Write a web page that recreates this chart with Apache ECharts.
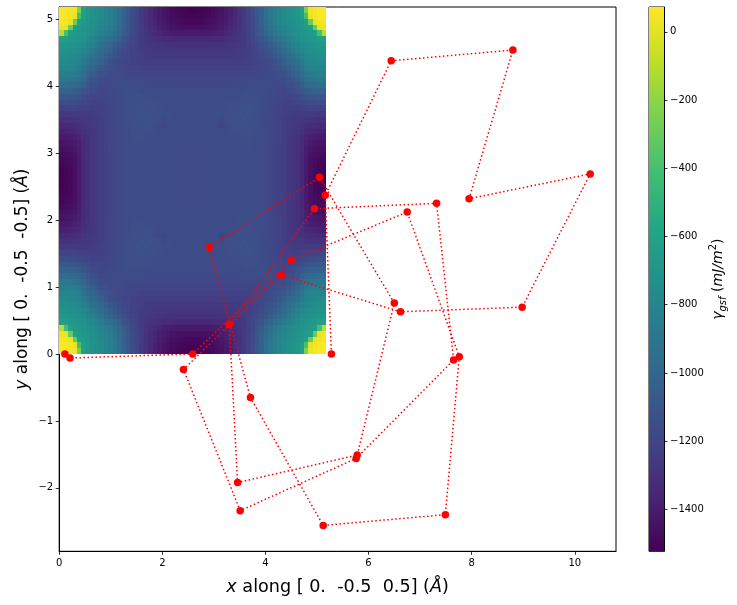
<!DOCTYPE html>
<html><head><meta charset="utf-8">
<script src="https://cdn.jsdelivr.net/npm/echarts@6/dist/echarts.min.js"></script>
<style>html,body{margin:0;padding:0;background:#fff}#c{width:737px;height:605px}</style>
</head><body><div id="c"></div>
<script>
// path of the red markers, in visiting order (Angstrom)
const pathX = [0.11,0.21,2.59,4.50,6.75,7.76,7.49,5.12,3.71,2.91,5.05,6.50,5.78,3.46,3.30,4.95,7.32,7.65,5.76,3.51,2.41,4.31,6.62,8.98,10.30,7.95,8.80,6.44,5.16,5.28];
const pathY = [0.00,-0.06,0.00,1.40,2.12,-0.04,-2.40,-2.56,-0.65,1.59,2.64,0.76,-1.51,-1.92,0.44,2.17,2.25,-0.09,-1.56,-2.34,-0.23,1.18,0.63,0.70,2.69,2.32,4.54,4.38,2.37,0.00];

// gamma_gsf read by colour for one corner quadrant (row 0 = corner edge, col 0 = corner edge); the map repeats in all four corners
const quadrant = [
[65,65,60,40,-250,-620,-680,-710,-740,-770,-800,-840,-890,-950,-1020,-1090,-1150,-1210,-1260,-1300,-1340,-1380,-1410,-1440,-1460,-1480,-1495,-1505,-1515,-1522],
[65,65,50,20,-400,-640,-680,-710,-740,-770,-800,-840,-890,-950,-1020,-1090,-1150,-1210,-1260,-1300,-1340,-1375,-1405,-1430,-1450,-1470,-1485,-1495,-1505,-1510],
[60,50,20,-300,-620,-670,-700,-730,-760,-780,-810,-850,-900,-960,-1030,-1095,-1155,-1210,-1255,-1295,-1330,-1365,-1395,-1420,-1440,-1455,-1470,-1480,-1490,-1495],
[40,20,-300,-620,-660,-690,-710,-740,-770,-790,-820,-860,-910,-970,-1035,-1100,-1160,-1210,-1250,-1290,-1320,-1350,-1380,-1400,-1420,-1435,-1450,-1460,-1460,-1460],
[-100,-400,-620,-660,-680,-700,-730,-760,-790,-820,-850,-890,-940,-995,-1060,-1120,-1170,-1215,-1250,-1280,-1310,-1335,-1360,-1380,-1390,-1400,-1405,-1410,-1410,-1410],
[-620,-640,-670,-690,-700,-710,-745,-790,-830,-870,-910,-950,-1000,-1045,-1095,-1140,-1185,-1220,-1250,-1270,-1290,-1305,-1320,-1330,-1335,-1340,-1345,-1350,-1350,-1350],
[-680,-680,-700,-710,-730,-745,-790,-830,-875,-920,-965,-1010,-1055,-1095,-1135,-1170,-1200,-1230,-1250,-1265,-1275,-1285,-1295,-1300,-1305,-1305,-1310,-1310,-1310,-1310],
[-710,-710,-730,-740,-760,-790,-830,-870,-920,-965,-1010,-1055,-1095,-1130,-1160,-1190,-1215,-1235,-1245,-1255,-1265,-1270,-1275,-1280,-1280,-1285,-1285,-1285,-1285,-1285],
[-740,-740,-760,-770,-790,-830,-875,-920,-960,-1000,-1050,-1090,-1125,-1150,-1175,-1195,-1215,-1230,-1240,-1250,-1255,-1258,-1260,-1260,-1260,-1262,-1262,-1262,-1262,-1262],
[-770,-770,-780,-790,-820,-870,-920,-965,-1000,-1040,-1090,-1130,-1160,-1180,-1195,-1205,-1215,-1225,-1230,-1235,-1235,-1235,-1235,-1235,-1235,-1235,-1235,-1235,-1235,-1235],
[-800,-800,-810,-820,-850,-910,-965,-1010,-1050,-1090,-1120,-1145,-1165,-1180,-1190,-1200,-1205,-1210,-1215,-1215,-1220,-1220,-1220,-1220,-1220,-1220,-1220,-1220,-1220,-1220],
[-840,-840,-850,-860,-890,-950,-1010,-1055,-1090,-1130,-1145,-1155,-1165,-1175,-1180,-1185,-1190,-1195,-1195,-1200,-1200,-1205,-1205,-1205,-1205,-1205,-1205,-1205,-1205,-1205],
[-890,-890,-900,-910,-940,-1000,-1055,-1095,-1125,-1160,-1165,-1165,-1165,-1165,-1170,-1170,-1175,-1175,-1180,-1180,-1185,-1185,-1185,-1190,-1190,-1190,-1190,-1190,-1190,-1190],
[-950,-950,-960,-970,-995,-1045,-1095,-1130,-1150,-1180,-1180,-1175,-1165,-1155,-1155,-1160,-1160,-1165,-1165,-1170,-1170,-1170,-1170,-1175,-1175,-1175,-1175,-1175,-1175,-1175],
[-1020,-1020,-1030,-1035,-1060,-1095,-1135,-1160,-1175,-1195,-1190,-1180,-1170,-1155,-1150,-1150,-1150,-1150,-1155,-1155,-1160,-1160,-1160,-1160,-1165,-1165,-1165,-1165,-1165,-1165],
[-1090,-1090,-1095,-1100,-1120,-1140,-1170,-1190,-1195,-1205,-1200,-1185,-1170,-1160,-1150,-1145,-1145,-1145,-1145,-1150,-1150,-1155,-1155,-1155,-1160,-1160,-1160,-1160,-1160,-1160],
[-1150,-1150,-1155,-1160,-1170,-1185,-1200,-1215,-1215,-1215,-1205,-1190,-1175,-1160,-1150,-1145,-1140,-1140,-1140,-1145,-1145,-1150,-1150,-1155,-1155,-1155,-1160,-1160,-1160,-1160],
[-1210,-1210,-1210,-1210,-1215,-1220,-1230,-1235,-1230,-1225,-1210,-1195,-1175,-1165,-1150,-1145,-1140,-1135,-1135,-1140,-1145,-1145,-1150,-1150,-1155,-1155,-1155,-1160,-1160,-1160],
[-1260,-1260,-1255,-1250,-1250,-1250,-1250,-1245,-1240,-1230,-1215,-1195,-1180,-1165,-1155,-1145,-1140,-1135,-1130,-1135,-1140,-1145,-1145,-1150,-1150,-1155,-1155,-1155,-1160,-1160],
[-1300,-1300,-1295,-1290,-1280,-1270,-1265,-1255,-1250,-1235,-1215,-1200,-1180,-1170,-1155,-1150,-1140,-1140,-1135,-1130,-1135,-1145,-1150,-1170,-1150,-1155,-1155,-1155,-1160,-1160],
[-1340,-1340,-1330,-1320,-1310,-1290,-1275,-1265,-1255,-1235,-1220,-1200,-1185,-1170,-1160,-1150,-1145,-1145,-1140,-1135,-1140,-1150,-1170,-1200,-1165,-1155,-1155,-1160,-1160,-1160],
[-1380,-1375,-1365,-1350,-1335,-1305,-1285,-1270,-1258,-1235,-1220,-1205,-1185,-1170,-1160,-1155,-1145,-1145,-1145,-1140,-1145,-1150,-1155,-1165,-1155,-1155,-1160,-1160,-1160,-1160],
[-1410,-1405,-1395,-1380,-1360,-1320,-1295,-1275,-1260,-1235,-1220,-1205,-1190,-1175,-1160,-1155,-1150,-1145,-1145,-1150,-1150,-1155,-1155,-1155,-1155,-1160,-1160,-1160,-1160,-1160],
[-1440,-1430,-1420,-1400,-1380,-1330,-1300,-1280,-1260,-1240,-1220,-1205,-1190,-1175,-1160,-1155,-1150,-1150,-1150,-1150,-1155,-1155,-1155,-1155,-1160,-1160,-1160,-1160,-1160,-1160],
[-1460,-1450,-1440,-1420,-1390,-1335,-1305,-1280,-1260,-1240,-1225,-1205,-1190,-1175,-1165,-1155,-1155,-1150,-1150,-1155,-1155,-1155,-1155,-1160,-1160,-1160,-1160,-1160,-1165,-1165],
[-1480,-1470,-1455,-1435,-1400,-1340,-1305,-1285,-1262,-1240,-1225,-1210,-1190,-1175,-1165,-1160,-1155,-1155,-1155,-1155,-1155,-1160,-1160,-1160,-1160,-1160,-1165,-1165,-1165,-1165],
[-1495,-1485,-1470,-1450,-1405,-1345,-1310,-1285,-1262,-1240,-1225,-1210,-1190,-1175,-1165,-1160,-1155,-1155,-1155,-1155,-1155,-1160,-1160,-1160,-1160,-1160,-1165,-1165,-1165,-1165],
[-1505,-1495,-1480,-1460,-1410,-1350,-1310,-1285,-1262,-1240,-1225,-1210,-1190,-1175,-1165,-1160,-1155,-1155,-1155,-1155,-1155,-1160,-1160,-1160,-1160,-1160,-1165,-1165,-1165,-1165],
[-1515,-1505,-1490,-1460,-1410,-1350,-1310,-1285,-1262,-1240,-1225,-1210,-1190,-1175,-1165,-1160,-1155,-1155,-1155,-1155,-1155,-1160,-1160,-1160,-1160,-1160,-1165,-1165,-1165,-1165],
[-1522,-1510,-1495,-1460,-1410,-1350,-1310,-1285,-1262,-1240,-1225,-1210,-1190,-1175,-1165,-1160,-1155,-1155,-1155,-1155,-1155,-1160,-1160,-1160,-1160,-1160,-1165,-1165,-1165,-1165]
];

const heatExtent = 5.18;
const xTicks = [0,2,4,6,8,10];
const yTicks = [-2,-1,0,1,2,3,4,5];
const barTicks = [0,-200,-400,-600,-800,-1000,-1200,-1400];
const barMin = -1523, barMax = 73;
const viridis = ['#440154','#482475','#414487','#355f8d','#2a788e','#21918c','#22a884','#44bf70','#7ad151','#bddf26','#fde725'];

const N = quadrant.length * 2;
const cell = heatExtent / N;
const heat = [];
for (let r = 0; r < N; r++) for (let c = 0; c < N; c++) {
  const v = quadrant[Math.min(r, N-1-r)][Math.min(c, N-1-c)];
  heat.push([c*cell, r*cell, (c+1)*cell, (r+1)*cell, v]);
}
const fmt = v => String(v).replace('-', '\u2212');
const FONT = 'DejaVu Sans';
const tick = {color:'#000', fontSize:10, fontFamily:FONT};
const line = {show:true, onZero:false, lineStyle:{color:'#000', width:1}};
const mk = {show:true, length:3.5, inside:false, lineStyle:{color:'#000', width:0.8}};
const rich = s => ({
  n:{fontFamily:FONT, fontSize:s, color:'#000'},
  i:{fontFamily:FONT, fontSize:s, fontStyle:'italic', color:'#000'}
});

const chart = echarts.init(document.getElementById('c'), null, {renderer:'canvas'});
chart.setOption({
  animation:false,
  backgroundColor:'#fff',
  grid:[
    {left:59.2, top:7, width:556.8, height:544.3, show:true, borderColor:'#000', borderWidth:1, backgroundColor:'transparent'},
    {left:649, top:7, width:15, height:544.3, show:true, borderColor:'#000', borderWidth:1}
  ],
  xAxis:[
    {type:'value', gridIndex:0, min:0, max:10.8, splitLine:{show:false}, axisLine:line,
     axisTick:{...mk, customValues:xTicks}, axisLabel:{...tick, margin:7, customValues:xTicks, formatter:fmt},
     name:'{i|x}{n| along [ 0.  -0.5  0.5] (}{i|\u00c5}{n|)}', nameLocation:'middle', nameGap:27, nameMoveOverlap:false,
     nameTextStyle:{rich:rich(17.6)}},
    {type:'value', gridIndex:1, min:0, max:1, show:false}
  ],
  yAxis:[
    {type:'value', gridIndex:0, min:-2.947, max:5.183, splitLine:{show:false}, axisLine:line,
     axisTick:{...mk, customValues:yTicks}, axisLabel:{...tick, margin:6, customValues:yTicks, formatter:fmt},
     name:'{i|y}{n| along [ 0.  -0.5  -0.5] (}{i|\u00c5}{n|)}', nameLocation:'middle', nameGap:28, nameRotate:90, nameMoveOverlap:false,
     nameTextStyle:{rich:rich(17)}},
    {type:'value', gridIndex:1, position:'right', min:barMin, max:barMax, splitLine:{show:false}, axisLine:line,
     axisTick:{...mk, customValues:barTicks}, axisLabel:{...tick, margin:6, customValues:barTicks, formatter:fmt},
     name:'{i|\u03b3}{s|gsf}{n| (}{i|mJ/m}{u|2}{n|)}', nameLocation:'middle', nameGap:44, nameRotate:90, nameMoveOverlap:false,
     nameTextStyle:{rich:{
       n:{fontFamily:FONT, fontSize:14, color:'#000', lineHeight:20},
       i:{fontFamily:FONT, fontSize:14, fontStyle:'italic', color:'#000', lineHeight:20},
       s:{fontFamily:FONT, fontSize:10, fontStyle:'italic', color:'#000', verticalAlign:'bottom', lineHeight:14},
       u:{fontFamily:FONT, fontSize:10, color:'#000', verticalAlign:'top', lineHeight:14}
     }}}
  ],
  visualMap:[{show:false, seriesIndex:0, dimension:4, min:barMin, max:barMax, inRange:{color:viridis}}],
  series:[
    {type:'custom', xAxisIndex:0, yAxisIndex:0, silent:true, clip:true, progressive:0, z:1,
     encode:{x:[0,2], y:[1,3]}, data:heat,
     renderItem:(p, api) => {
       const a = api.coord([api.value(0), api.value(3)]);
       const b = api.coord([api.value(2), api.value(1)]);
       const x0 = Math.round(a[0]), y0 = Math.round(a[1]), x1 = Math.round(b[0]), y1 = Math.round(b[1]);
       return {type:'rect', shape:{x:x0, y:y0, width:x1-x0, height:y1-y0},
               style:{fill:api.visual('color')}};
     }},
    {type:'line', xAxisIndex:0, yAxisIndex:0, z:3, silent:true,
     data:pathX.map((x,i)=>[x,pathY[i]]),
     symbol:'circle', symbolSize:7.5, showSymbol:true, showAllSymbol:true, clip:true,
     itemStyle:{color:'#ff0000'},
     lineStyle:{color:'#ff0000', width:1.5, type:[1.5,2.5]}},
    {type:'custom', xAxisIndex:1, yAxisIndex:1, silent:true, clip:true, z:1,
     data:[[0,barMin,1,barMax]], encode:{x:[0,2], y:[1,3]},
     renderItem:(p, api) => {
       const a = api.coord([api.value(0), api.value(3)]);
       const b = api.coord([api.value(2), api.value(1)]);
       return {type:'rect', shape:{x:a[0], y:a[1], width:b[0]-a[0], height:b[1]-a[1]},
         style:{fill:new echarts.graphic.LinearGradient(0,1,0,0,
           viridis.map((c,i)=>({offset:i/(viridis.length-1), color:c})))}};
     }}
  ]
});
</script></body></html>
